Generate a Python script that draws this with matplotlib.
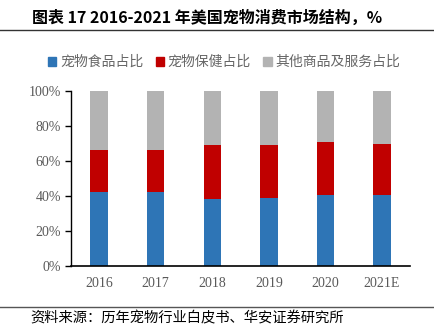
import matplotlib
matplotlib.use("Agg")
import matplotlib.pyplot as plt
from matplotlib.lines import Line2D
from matplotlib.patches import Patch
import numpy as np

plt.rcParams['font.family'] = ['Noto Sans CJK SC', 'DejaVu Sans']

years = ["2016", "2017", "2018", "2019", "2020", "2021E"]
food = [42.3, 41.9, 38.1, 38.5, 40.6, 40.3]
health = [23.7, 24.4, 30.7, 30.6, 30.3, 29.4]
other = [100 - f - h for f, h in zip(food, health)]
labels = ["宠物食品占比", "宠物保健占比", "其他商品及服务占比"]
colors = ["#2E75B6", "#C00000", "#B3B3B3"]

fig = plt.figure(figsize=(4.35, 3.32), dpi=100)
ax = fig.add_axes([0.163, 0.2, 0.78, 0.526])

x = np.arange(len(years))
w = 0.31
ax.bar(x, food, w, color=colors[0])
ax.bar(x, health, w, bottom=food, color=colors[1])
ax.bar(x, other, w, bottom=np.add(food, health), color=colors[2])

ax.set_xlim(-0.5, 5.5)
ax.set_ylim(0, 100)
ax.set_yticks(range(0, 101, 20))
ax.set_yticklabels([f"{v}%" for v in range(0, 101, 20)], family="Liberation Serif",
                   fontsize=10, color="#595959")
ax.set_xticks(x)
ax.set_xticklabels(years, family="Liberation Serif", fontsize=10, color="#595959")
ax.tick_params(axis="x", length=0, pad=8)
ax.tick_params(axis="y", length=4, width=1, color="black", pad=3)
for s in ["top", "right"]:
    ax.spines[s].set_visible(False)
ax.spines["left"].set_linewidth(1)
ax.spines["bottom"].set_linewidth(1.2)

handles = [Patch(color=c) for c in colors]
fig.legend(handles, labels, loc="center", bbox_to_anchor=(0.515, 0.813), ncol=3,
           frameon=False, fontsize=10, handlelength=0.6, handleheight=0.6,
           handletextpad=0.25, columnspacing=0.9, labelcolor="#666666")

fig.text(0.073, 0.948, "图表 17 2016-2021 年美国宠物消费市场结构，%", fontsize=11.5,
         fontweight="bold", va="center", ha="left")
fig.add_artist(Line2D([0, 1], [0.91, 0.91], color="#333333", lw=1))
fig.add_artist(Line2D([0, 1], [0.076, 0.076], color="#555555", lw=1))
fig.text(0.069, 0.04, "资料来源：历年宠物行业白皮书、华安证券研究所", fontsize=10.3,
         va="center", ha="left")

fig.savefig("out.png", dpi=100)
